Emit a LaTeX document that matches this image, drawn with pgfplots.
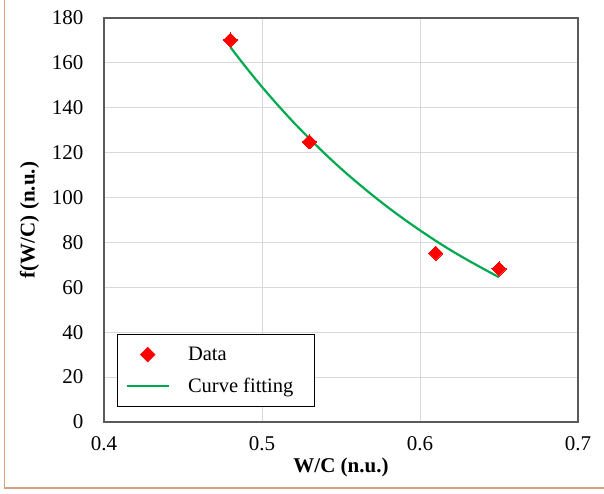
\documentclass[border=0pt]{standalone}
\usepackage{pgfplots}
\pgfplotsset{compat=1.18}
\usepackage{fontspec}
\setmainfont{Liberation Serif}
\definecolor{fitgreen}{RGB}{0,170,80}
\definecolor{gridgray}{RGB}{217,217,217}
\definecolor{axgray}{RGB}{90,90,90}
\definecolor{framebrown}{RGB}{214,160,130}
\begin{document}
\begin{tikzpicture}[x=1pt,y=1pt]
\fill[white] (0,0) rectangle (604,493);
\useasboundingbox (0,0) rectangle (604,493);
\draw[framebrown,line width=1.2pt] (4.5,493) -- (4.5,5) -- (604,5);
\begin{axis}[
  at={(104pt,71pt)}, anchor=south west,
  scale only axis, width=474pt, height=404pt,
  xmin=0.4, xmax=0.7, ymin=0, ymax=180,
  xtick={0.4,0.5,0.6,0.7}, ytick={0,20,...,180},
  xticklabels={0.4,0.5,0.6,0.7},
  grid=major, major grid style={gridgray, line width=0.8pt},
  axis line style={axgray, line width=1.2pt},
  major tick length=0pt,
  tick label style={font=\fontsize{21}{24}\selectfont},
  /pgf/number format/assume math mode=true,
  xticklabel style={yshift=-11pt},
  yticklabel style={xshift=-17pt},
  xlabel={\textbf{W/C (n.u.)}},
  ylabel={\textbf{f(W/C) (n.u.)}},
  label style={font=\fontsize{21}{24}\selectfont},
  xlabel style={yshift=0pt},
  ylabel style={yshift=6pt},
  legend style={at={(13pt,15pt)}, anchor=south west, draw=black, line width=1pt,
    font=\fontsize{20.5}{24}\selectfont, inner xsep=8pt, inner ysep=9pt,
    row sep=9pt, nodes={inner sep=3pt, text depth=0.25em}, /tikz/every odd column/.append style={column sep=15pt}},
  legend cell align=left,
  clip=false,
]
\addplot[only marks, mark=square*, mark size=5pt, mark options={rotate=45, red, fill=red, line width=0pt}, color=red,
  legend image code/.code={\draw[red,fill=red] plot[mark=square*, mark size=5pt, mark options={rotate=45}] coordinates {(21pt,0pt)};}]
  coordinates {(0.48,170.2) (0.53,124.8) (0.61,75.2) (0.65,68.2)};
\addlegendentry{Data}
\addplot[fitgreen, line width=2.2pt, smooth, legend image code/.code={\draw[fitgreen,line width=2.5pt] (0pt,0pt) -- (42pt,0pt);}]
  coordinates {(0.48,167.0) (0.49,157.9) (0.50,149.3) (0.51,141.2) (0.52,133.5) (0.53,126.3) (0.54,119.4) (0.55,112.9) (0.56,106.8) (0.57,101.0) (0.58,95.5) (0.59,90.3) (0.60,85.4) (0.61,80.7) (0.62,76.3) (0.63,72.2) (0.64,68.3) (0.65,64.5)};
\addlegendentry{Curve fitting\hspace*{10pt}\mbox{}}
\end{axis}
\end{tikzpicture}
\end{document}
